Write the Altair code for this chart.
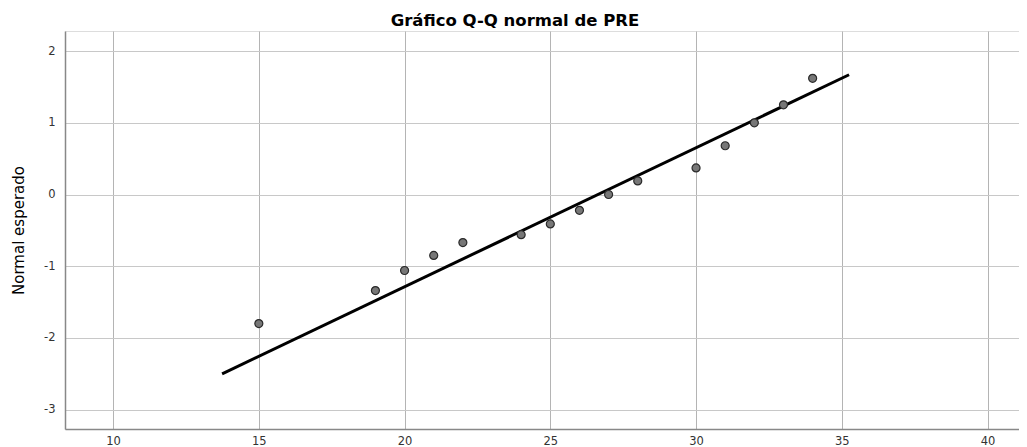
import altair as alt
import pandas as pd

# Observed values (PRE) and expected normal quantiles
obs_x = [15, 19, 20, 21, 22, 24, 25, 26, 27, 28, 30, 31, 32, 33, 34]
exp_y = [-1.80, -1.34, -1.06, -0.85, -0.67, -0.56, -0.41, -0.22, 0.00, 0.19, 0.37, 0.68, 1.00, 1.25, 1.62]

# Reference line endpoints
line_x = [13.74, 35.25]
line_y = [-2.50, 1.67]

x_ticks = [10, 15, 20, 25, 30, 35, 40]
y_ticks = [-3, -2, -1, 0, 1, 2]

pts = pd.DataFrame({"x": obs_x, "y": exp_y})
ln = pd.DataFrame({"x": line_x, "y": line_y})

FONT = "DejaVu Sans"

xscale = alt.Scale(domain=[8.35, 41.08], nice=False, zero=False)
yscale = alt.Scale(domain=[-3.27, 2.28], nice=False, zero=False)

xaxis = alt.Axis(values=x_ticks, labelExpr="'' + datum.value", title=None, grid=True,
                 gridColor="#b4b4b4", gridWidth=1,
                 domainColor="#888888", domainWidth=1.5, ticks=False, labelPadding=6,
                 labelFont=FONT, labelFontSize=11.5, labelColor="#333333")
yaxis = alt.Axis(values=y_ticks, labelExpr="'' + datum.value", title="Normal esperado", grid=True,
                 gridColor="#c8c8c8", gridWidth=1,
                 domainColor="#888888", domainWidth=1.5, ticks=False, labelPadding=10,
                 labelFont=FONT, labelFontSize=11.5, labelColor="#333333",
                 titleFont=FONT, titleFontSize=15, titleFontWeight="normal", titleColor="#000000",
                 titleX=-47, titleBaseline="middle")

line = alt.Chart(ln).mark_line(color="#000000", strokeWidth=3).encode(
    x=alt.X("x:Q", scale=xscale, axis=xaxis),
    y=alt.Y("y:Q", scale=yscale, axis=yaxis),
)

points = alt.Chart(pts).mark_point(filled=True, fill="#777777", stroke="#2a2a2a",
                                   strokeWidth=1.2, size=64, opacity=1, fillOpacity=1).encode(
    x=alt.X("x:Q", scale=xscale),
    y=alt.Y("y:Q", scale=yscale),
)

chart = alt.layer(line, points).properties(
    width=1011,
    height=439,
    autosize=alt.AutoSizeParams(type="fit", contains="padding"),
    padding={"left": 3, "top": 4, "right": 0, "bottom": 0},
    title=alt.TitleParams("Gráfico Q-Q normal de PRE", font=FONT, fontSize=16.5, fontWeight="bold",
                          color="#000000", anchor="middle", frame="bounds", offset=-11,
                          baseline="alphabetic"),
).configure_view(stroke=None).configure(background="#ffffff")

chart.save("out.html", embed_options={"renderer": "svg", "actions": False})
